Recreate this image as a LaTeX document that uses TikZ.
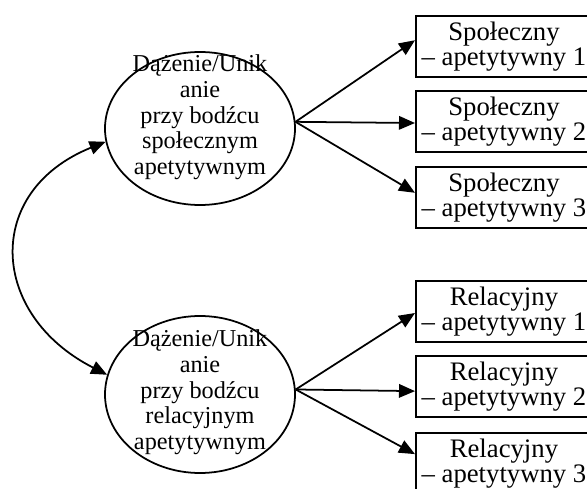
\documentclass[tikz,border=0pt]{standalone}
\usepackage{fontspec}
\setmainfont{Liberation Serif}
\usetikzlibrary{arrows.meta,shapes.geometric}

\begin{document}
\begin{tikzpicture}[
    >={Triangle[length=0.32cm,width=0.27cm]},
    latent/.style={draw, line width=1pt, ellipse, minimum width=3.8cm, inner sep=0pt},
    latenttext/.style={align=center, inner sep=0pt, font=\fontsize{13.8}{14.6}\selectfont},
    indicator/.style={draw, line width=1.1pt, anchor=north west, minimum width=3.52cm,
        minimum height=1.22cm, align=center, inner sep=0pt, font=\fontsize{15.2}{14.2}\selectfont},
    arr/.style={->, line width=1pt}
]
    \clip (0,0) rectangle (11.74,9.78);

    % latent variables
    \node (spol) [latent, minimum height=3.06cm] at (4.0,7.21) {};
    \node (rel) [latent, minimum height=3.14cm] at (4.0,1.89) {};
    \node (spoltxt) [latenttext] at (4.0,7.43)
        {Dążenie/Unik\\anie\\przy bodźcu\\społecznym\\apetytywnym};
    \node (reltxt) [latenttext] at (4.0,1.93)
        {Dążenie/Unik\\anie\\przy bodźcu\\relacyjnym\\apetytywnym};

    % indicators
    \node (s1) [indicator] at (8.3,9.48) {Społeczny\\– apetytywny 1};
    \node (s2) [indicator] at (8.3,7.98) {Społeczny\\– apetytywny 2};
    \node (s3) [indicator] at (8.3,6.46) {Społeczny\\– apetytywny 3};
    \node (r1) [indicator] at (8.3,4.18) {Relacyjny\\– apetytywny 1};
    \node (r2) [indicator] at (8.3,2.68) {Relacyjny\\– apetytywny 2};
    \node (r3) [indicator] at (8.3,1.14) {Relacyjny\\– apetytywny 3};

    % loadings
    \draw [arr] (spol.4) -- (s1.176);
    \draw [arr] (spol.4) -- (s2.181);
    \draw [arr] (spol.4) -- (s3.177);
    \draw [arr] (rel.3) -- (r1.181);
    \draw [arr] (rel.3) -- (r2.183);
    \draw [arr] (rel.3) -- (r3.174);

    % correlation
    \draw [<->, line width=1pt] (spol.188) to[out=202, in=153, looseness=1.45] (rel.168);
\end{tikzpicture}
\end{document}
